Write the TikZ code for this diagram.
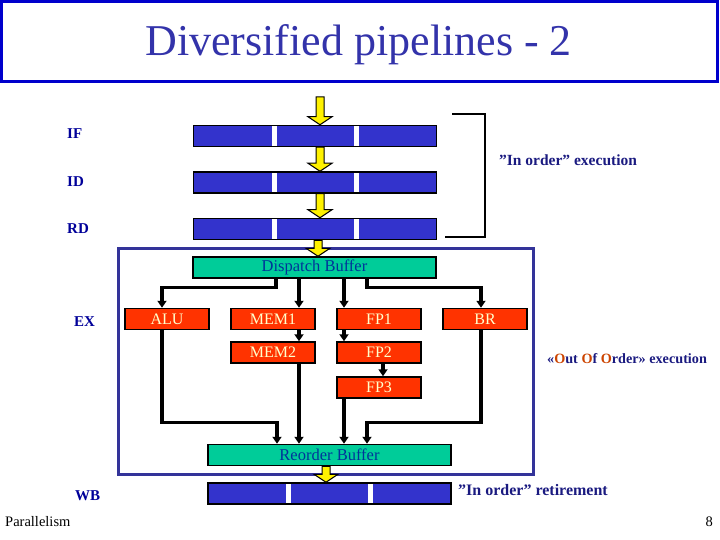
\documentclass[tikz,border=0pt]{standalone}
\usepackage{fontspec}
\setmainfont{Liberation Serif}
\usetikzlibrary{arrows.meta,calc}
\definecolor{titleblue}{RGB}{51,51,170}
\definecolor{framebl}{RGB}{0,0,204}
\definecolor{barblue}{RGB}{51,51,204}
\definecolor{boxblue}{RGB}{51,51,153}
\definecolor{lblblue}{RGB}{0,0,153}
\definecolor{tealbuf}{RGB}{0,204,153}
\definecolor{unitred}{RGB}{255,51,0}
\definecolor{cream}{RGB}{255,255,204}
\definecolor{ooored}{RGB}{204,68,0}
\definecolor{bufblue}{RGB}{0,51,153}
\definecolor{navy}{RGB}{26,26,128}
\newcommand\yarr[2]{\filldraw[fill=yellow,draw=black,line width=1pt] let \p1=#1, \p2=#2 in
  (\x1-4pt,\y1) -- (\x1+4pt,\y1) -- (\x1+4pt,\y2+8pt) -- (\x1+12pt,\y2+8pt) -- (\x1,\y2)
  -- (\x1-12pt,\y2+8pt) -- (\x1-4pt,\y2+8pt) -- cycle;}
\tikzset{
 bar/.style={draw=black, fill=barblue, line width=1.5pt, minimum width=243pt, minimum height=21pt, inner sep=0pt,
   path picture={\fill[white] ([xshift=78pt]path picture bounding box.north west) rectangle ([xshift=83pt]path picture bounding box.south west);
                 \fill[white] ([xshift=160pt]path picture bounding box.north west) rectangle ([xshift=165pt]path picture bounding box.south west);}},
 buf/.style={draw=black, fill=tealbuf, line width=1.5pt, minimum width=243pt, minimum height=21pt, inner sep=0pt, text=bufblue, font=\fontsize{16.5}{19}\selectfont},
 unit/.style={draw=black, fill=unitred, line width=1.5pt, minimum width=84pt, minimum height=21pt, inner sep=0pt, text=cream, font=\fontsize{16}{19}\selectfont},
 stage/.style={text=lblblue, font=\bfseries\fontsize{15}{18}\selectfont, inner sep=0pt, anchor=west},
 conn/.style={line width=3.2pt, -{Triangle[width=9pt,length=7pt]}},
 note/.style={text=navy, font=\bfseries\fontsize{15.5}{18}\selectfont, inner sep=0pt, anchor=west},
}
\begin{document}
\begin{tikzpicture}[x=1pt,y=-1pt]
\useasboundingbox (0,0) rectangle (720,540);
% title
\draw[framebl, line width=3pt] (1.5,1.5) rectangle (717.5,81.5);
\node[text=titleblue, font=\fontsize{44}{50}\selectfont, inner sep=0pt] (title) at (358.5,45) {Diversified pipelines - 2};
% stage labels
\node[stage] (lif) at (67,134) {IF};
\node[stage] (lid) at (67,182) {ID};
\node[stage] (lrd) at (67,229) {RD};
\node[stage] (lex) at (74,322) {EX};
\node[stage] (lwb) at (75,496) {WB};
% out-of-order frame
\draw[boxblue, line width=3pt] (118,248) rectangle (533,474);
% in-order bars
\node[bar] (ifb) at (315,136) {};
\node[bar] (idb) at (315,182.5) {};
\node[bar] (rdb) at (315,229) {};
\node[bar] (wbb) at (329.5,493.5) {};
% buffers
\node[buf] (disp) at (314.5,267.5) {Dispatch Buffer};
\node[buf] (rob) at (329.5,455) {Reorder Buffer};
% units
\node[unit] (alu) at (167,319) {ALU};
\node[unit] (mem1) at (273,319) {MEM1};
\node[unit] (fp1) at (379,319) {FP1};
\node[unit] (br) at (485,319) {BR};
\node[unit] (mem2) at (273,352.5) {MEM2};
\node[unit] (fp2) at (379,352.5) {FP2};
\node[unit] (fp3) at (379,387.5) {FP3};
% port coordinates
\coordinate (m1in) at ([xshift=26pt]mem1.north);
\coordinate (f1in) at ([xshift=-35pt]fp1.north);
\coordinate (m2out) at ([xshift=26pt]mem2.south);
\coordinate (f3out) at ([xshift=-35pt]fp3.south);
% yellow flow arrows
\coordinate (fetch) at (320,97);
\yarr{(fetch)}{([xshift=5pt]ifb.north)}
\yarr{([xshift=5pt]ifb.south)}{([xshift=5pt]idb.north)}
\yarr{([xshift=5pt]idb.south)}{([xshift=5pt]rdb.north)}
\yarr{([xshift=3pt]rdb.south)}{([xshift=3.5pt]disp.north)}
\yarr{([xshift=-3.5pt]rob.south)}{([xshift=-3.5pt]wbb.north)}
% dispatch connectors
\draw[conn] ([xshift=-38.5pt]disp.south) -- ++(0,9) -| ([xshift=-5pt]alu.north);
\draw[conn] (disp.south -| m1in) -- (m1in);
\draw[conn] (disp.south -| f1in) -- (f1in);
\draw[conn] ([xshift=52.5pt]disp.south) -- ++(0,9) -| ([xshift=-4pt]br.north);
\draw[conn] ([xshift=26pt]mem1.south) -- ([xshift=26pt]mem2.north);
\draw[conn] ([xshift=-35pt]fp1.south) -- ([xshift=-35pt]fp2.north);
\draw[conn] ([xshift=4pt]fp2.south) -- ([xshift=4pt]fp3.north);
% reorder connectors
\draw[conn] ([xshift=-5pt]alu.south) |- ([xshift=-52.5pt,yshift=21pt]rob.north) -- ([xshift=-52.5pt]rob.north);
\draw[conn] (m2out) -- (rob.north -| m2out);
\draw[conn] (f3out) -- (rob.north -| f3out);
\draw[conn] ([xshift=-4pt]br.south) |- ([xshift=37.5pt,yshift=21pt]rob.north) -- ([xshift=37.5pt]rob.north);
% bracket
\draw[line width=2pt] (452,114) -| (485,237) -- (445,237);
% notes
\node[note] (n1) at (499,160) {”In order” execution};
\node[note, font=\bfseries\fontsize{14.2}{17}\selectfont] (n2) at (547,359) {«\textcolor{ooored}{O}ut \textcolor{ooored}{O}f \textcolor{ooored}{O}rder» execution};
\node[note, font=\bfseries\fontsize{16}{19}\selectfont] (n3) at (458,490) {”In order” retirement};
% footer
\node[inner sep=0pt, anchor=west, font=\fontsize{14.5}{17}\selectfont] (foot) at (5,522) {Parallelism};
\node[inner sep=0pt, anchor=east, font=\fontsize{14.5}{17}\selectfont] (pg) at (713,522) {8};
\end{tikzpicture}
\end{document}
